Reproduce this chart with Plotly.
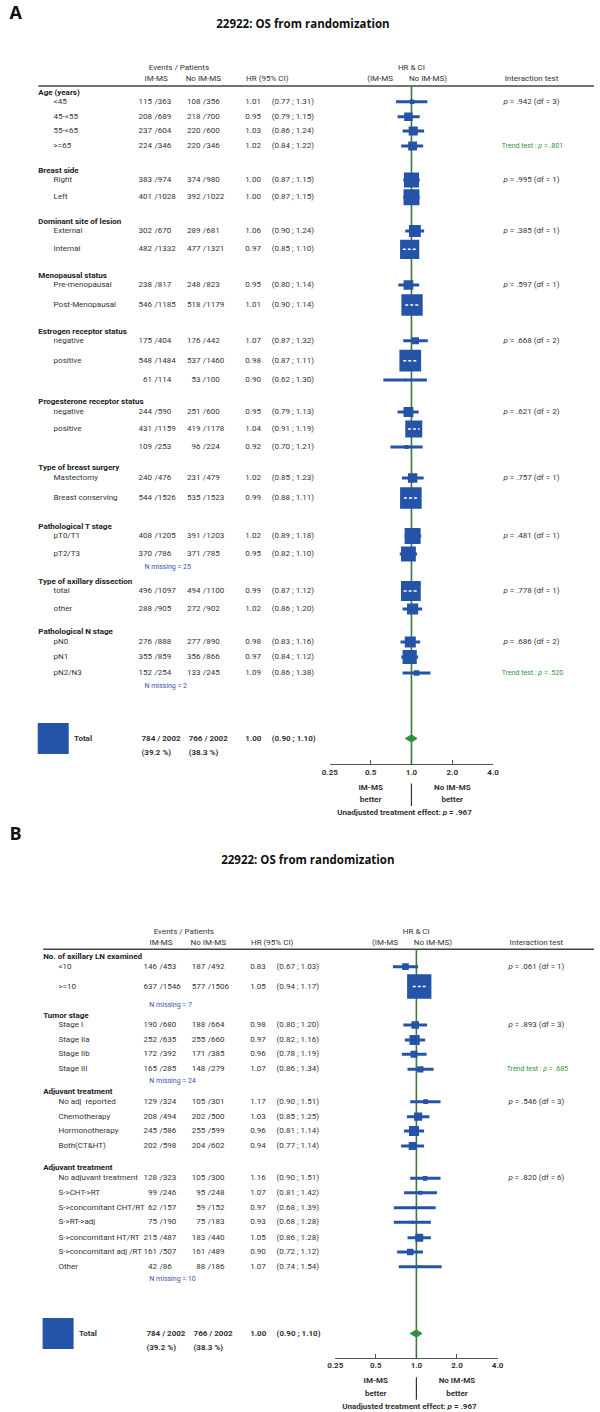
import math
import plotly.graph_objects as go

# ===================== DATA =====================
# ---- Panel A ----
A_GROUPS = ["Age (years)", "Breast side", "Dominant site of lesion", "Menopausal status",
            "Estrogen receptor status", "Progesterone receptor status",
            "Type of breast surgery", "Pathological T stage",
            "Type of axillary dissection", "Pathological N stage"]
A_GROUP_P = [".942 (df = 3)", ".995 (df = 1)", ".385 (df = 1)", ".597 (df = 1)",
             ".668 (df = 2)", ".621 (df = 2)", ".757 (df = 1)", ".481 (df = 1)",
             ".778 (df = 1)", ".686 (df = 2)"]
A_ROW_GROUP = [0, 0, 0, 0, 1, 1, 2, 2, 3, 3, 4, 4, 4, 5, 5, 5, 6, 6, 7, 7, 8, 8, 9, 9, 9]
A_LABELS = ["&lt;45", "45-&lt;55", "55-&lt;65", "&gt;=65", "Right", "Left", "External", "Internal",
            "Pre-menopausal", "Post-Menopausal", "negative", "positive", "",
            "negative", "positive", "", "Mastectomy", "Breast conserving",
            "pT0/T1", "pT2/T3", "total", "other", "pN0", "pN1", "pN2/N3"]
A_EV1 = [115, 208, 237, 224, 383, 401, 302, 482, 238, 546, 175, 548, 61, 244, 431, 109,
         240, 544, 408, 370, 496, 288, 276, 355, 152]
A_N1 = [363, 689, 604, 346, 974, 1028, 670, 1332, 817, 1185, 404, 1484, 114, 590, 1159, 253,
        476, 1526, 1205, 786, 1097, 905, 888, 859, 254]
A_EV2 = [108, 218, 220, 220, 374, 392, 289, 477, 248, 518, 176, 537, 53, 251, 419, 96,
         231, 535, 391, 371, 494, 272, 277, 356, 133]
A_N2 = [356, 700, 600, 346, 980, 1022, 681, 1321, 823, 1179, 442, 1460, 100, 600, 1178, 224,
        479, 1523, 1203, 785, 1100, 902, 890, 866, 245]
A_HR = [1.01, 0.95, 1.03, 1.02, 1.00, 1.00, 1.06, 0.97, 0.95, 1.01, 1.07, 0.98, 0.90, 0.95,
        1.04, 0.92, 1.02, 0.99, 1.02, 0.95, 0.99, 1.02, 0.98, 0.97, 1.09]
A_LO = [0.77, 0.79, 0.86, 0.84, 0.87, 0.87, 0.90, 0.85, 0.80, 0.90, 0.87, 0.87, 0.62, 0.79,
        0.91, 0.70, 0.85, 0.88, 0.89, 0.82, 0.87, 0.86, 0.83, 0.84, 0.86]
A_HI = [1.31, 1.15, 1.24, 1.22, 1.15, 1.15, 1.24, 1.10, 1.14, 1.14, 1.32, 1.11, 1.30, 1.13,
        1.19, 1.21, 1.23, 1.11, 1.18, 1.10, 1.12, 1.20, 1.16, 1.12, 1.38]
A_TREND = {3: ".801", 24: ".520"}          # row index -> trend p
A_MISSING = {7: 25, 9: 2}                  # group index -> N missing
A_TOTAL_EV = [784, 766]
A_TOTAL_N = [2002, 2002]
A_TOTAL_PCT = ["39.2 %", "38.3 %"]
A_TOTAL_HR = [1.00, 0.90, 1.10]
A_P_UNADJ = ".967"

# ---- Panel B ----
B_GROUPS = ["No. of axillary LN examined", "Tumor stage", "Adjuvant treatment",
            "Adjuvant treatment"]
B_GROUP_P = [".061 (df = 1)", ".893 (df = 3)", ".546 (df = 3)", ".820 (df = 6)"]
B_ROW_GROUP = [0, 0, 1, 1, 1, 1, 2, 2, 2, 2, 3, 3, 3, 3, 3, 3, 3]
B_LABELS = ["&lt;10", "&gt;=10", "Stage I", "Stage IIa", "Stage IIb", "Stage III",
            "No adj  reported", "Chemotherapy", "Hormonotherapy", "Both(CT&amp;HT)",
            "No adjuvant treatment", "S-&gt;CHT-&gt;RT", "S-&gt;concomitant CHT/RT",
            "S-&gt;RT-&gt;adj", "S-&gt;concomitant HT/RT", "S-&gt;concomitant adj /RT", "Other"]
B_EV1 = [146, 637, 190, 252, 172, 165, 129, 208, 245, 202, 128, 99, 62, 75, 215, 161, 42]
B_N1 = [453, 1546, 680, 635, 392, 285, 324, 494, 586, 598, 323, 246, 157, 190, 487, 507, 86]
B_EV2 = [187, 577, 188, 255, 171, 148, 105, 202, 255, 204, 105, 95, 59, 75, 183, 161, 88]
B_N2 = [492, 1506, 664, 660, 385, 279, 301, 500, 599, 602, 300, 248, 152, 183, 440, 489, 186]
B_HR = [0.83, 1.05, 0.98, 0.97, 0.96, 1.07, 1.17, 1.03, 0.96, 0.94, 1.16, 1.07, 0.97, 0.93,
        1.05, 0.90, 1.07]
B_LO = [0.67, 0.94, 0.80, 0.82, 0.78, 0.86, 0.90, 0.85, 0.81, 0.77, 0.90, 0.81, 0.68, 0.68,
        0.86, 0.72, 0.74]
B_HI = [1.03, 1.17, 1.20, 1.16, 1.19, 1.34, 1.51, 1.25, 1.14, 1.14, 1.51, 1.42, 1.39, 1.28,
        1.28, 1.12, 1.54]
B_TREND = {5: ".685"}
B_MISSING = {0: 7, 1: 24, 3: 10}
B_TOTAL_EV = [784, 766]
B_TOTAL_N = [2002, 2002]
B_TOTAL_PCT = ["39.2 %", "38.3 %"]
B_TOTAL_HR = [1.00, 0.90, 1.10]
B_P_UNADJ = ".967"

TITLE = "22922: OS from randomization"
TICK_VALS = [0.25, 0.5, 1, 2, 4]
TICK_TEXT = ["0.25", "0.5", "1.0", "2.0", "4.0"]

# ===================== LAYOUT (positions / styles) =====================
W, H = 600, 1412
BODY = "Roboto, Liberation Sans, sans-serif"
HEAD = "Open Sans, Noto Sans, sans-serif"
TXT = "#333333"
BLUE = "#2453a8"
GREEN_LINE = "#3b7a3b"
GREEN = "#2f9040"
NAVY = "#3d4db0"
SQ_PER_EVENT = 0.02  # square side (px) per event

A_POS = dict(dx=0, title_y=25, label_y=14, label="A", hdr1=68.3, hdr2=79.3, line_y=86,
             group_y=[92.7, 170.7, 222, 275.5, 331.7, 402, 468, 527, 581.5, 632],
             row_y=[101.7, 116.7, 131, 146, 180, 197.3, 231, 249.3, 285, 305, 340.7, 360.7, 380,
                    412, 429, 447, 478, 498, 536, 554, 591, 609, 642, 657, 673],
             missing_y={7: 567, 9: 686}, total_y=738.5, axis_y=764,
             dom=(329.5, 496.7), xlog="x2")
B_POS = dict(dx=5, title_y=861, label_y=835.7, label="B", hdr1=932.3, hdr2=943.3, line_y=949.3,
             group_y=[957, 1015.7, 1091.7, 1168.3],
             row_y=[966.7, 986.5, 1025, 1040, 1054.3, 1069.3, 1101.7, 1116.7, 1131, 1146,
                    1178.3, 1192.7, 1207.7, 1222.3, 1237.7, 1252, 1266.7],
             missing_y={0: 1005, 1: 1081.7, 3: 1279}, total_y=1333.5, axis_y=1357.7,
             dom=(335, 501.3), xlog="x3")

fig = go.Figure()


def add_text(xs, ys, texts, pos, size=8, color=TXT, family=BODY, xaxis="x"):
    fig.add_trace(go.Scatter(
        x=xs, y=ys, text=texts, mode="text", textposition=pos,
        textfont=dict(size=size, color=color, family=family),
        hoverinfo="skip", showlegend=False, cliponaxis=False, xaxis=xaxis, yaxis="y"))


def add_line(xs, ys, color, width, xaxis="x", dash="solid"):
    fig.add_trace(go.Scatter(
        x=xs, y=ys, mode="lines", line=dict(color=color, width=width, dash=dash),
        hoverinfo="skip", showlegend=False, cliponaxis=False, xaxis=xaxis, yaxis="y"))


def draw_panel(groups, group_p, row_group, labels, ev1, n1, ev2, n2, hr, lo, hi,
               trend, missing, tot_ev, tot_n, tot_pct, tot_hr, p_unadj, P):
    dx = P["dx"]
    xl = P["xlog"]
    ry = P["row_y"]
    # panel letter and title
    add_text([1.5], [P["label_y"]], ["<b>%s</b>" % P["label"]], "middle right", 18,
             "#111111", HEAD)
    add_text([302 + dx], [P["title_y"]], ["<b>%s</b>" % TITLE], "middle center", 11.5,
             "#111111", HEAD)
    # headers
    add_text([175 + dx, 413 + dx], [P["hdr1"]] * 2, ["Events / Patients", "HR &amp; CI"],
             "middle center")
    add_text([151.7 + dx, 200 + dx, 265.5 + dx, 381 + dx, 430 + dx, 536 + dx], [P["hdr2"]] * 6,
             ["IM-MS", "No IM-MS", "HR (95% CI)", "(IM-MS", "No IM-MS)", "Interaction test"],
             "middle center")
    add_line([31 + dx, 600], [P["line_y"]] * 2, "#444444", 1.6)
    # group labels
    add_text([31 + dx] * len(groups), P["group_y"], ["<b>%s</b>" % g for g in groups],
             "middle right", 8, "#222222")
    # rows
    add_text([46.7 + dx] * len(labels), ry, labels, "middle right")
    add_text([147.5 + dx] * len(ev1), ry, [str(v) for v in ev1], "middle left")
    add_text([150 + dx] * len(n1), ry, ["/%d" % v for v in n1], "middle right")
    add_text([197 + dx] * len(ev2), ry, [str(v) for v in ev2], "middle left")
    add_text([199.5 + dx] * len(n2), ry, ["/%d" % v for v in n2], "middle right")
    add_text([243 + dx] * len(hr), ry, ["%.2f" % v for v in hr], "middle right")
    add_text([270 + dx] * len(hr), ry, ["(%.2f ; %.2f)" % (a, b) for a, b in zip(lo, hi)],
             "middle right")
    # interaction p-values at first row of each group
    first_row = {}
    for i, g in enumerate(row_group):
        first_row.setdefault(g, i)
    add_text([536 + dx] * len(group_p), [ry[first_row[g]] for g in range(len(group_p))],
             ["<i>p</i> = %s" % p for p in group_p], "middle center")
    add_text([537 + dx] * len(trend), [ry[i] for i in trend],
             ["Trend test : <i>p</i> = %s" % trend[i] for i in trend], "middle center", 7, GREEN)
    add_text([139.7 + dx] * len(missing), [P["missing_y"][g] for g in missing],
             ["N missing = %d" % missing[g] for g in missing], "middle right", 7, NAVY)

    # totals
    ty = P["total_y"]
    tot_events = sum(tot_ev)
    fig.add_trace(go.Scatter(x=[46.3 + dx], y=[ty], mode="markers",
                             marker=dict(symbol="square", size=tot_events * SQ_PER_EVENT,
                                         color=BLUE, opacity=1, line=dict(width=0)),
                             hoverinfo="skip", showlegend=False, xaxis="x", yaxis="y"))
    add_text([67.7 + dx], [ty], ["<b>Total</b>"], "middle right")
    add_text([136.7 + dx, 185 + dx], [ty] * 2,
             ["<b>%d / %d</b>" % (e, n) for e, n in zip(tot_ev, tot_n)], "middle right")
    add_text([136.7 + dx, 185 + dx], [ty + 14] * 2, ["<b>(%s)</b>" % p for p in tot_pct],
             "middle right")
    add_text([243 + dx, 270 + dx], [ty] * 2,
             ["<b>%.2f</b>" % tot_hr[0], "<b>(%.2f ; %.2f)</b>" % (tot_hr[1], tot_hr[2])],
             "middle right")

    # ---------- forest marks ----------
    ay = P["axis_y"]
    add_line([1, 1], [P["line_y"], ay], GREEN_LINE, 1.6, xl)
    cx, cy = [], []
    for a, b, y in zip(lo, hi, ry):
        cx += [a, b, None]
        cy += [y, y, None]
    add_line(cx, cy, BLUE, 3, xl)
    sizes = [(e1 + e2) * SQ_PER_EVENT for e1, e2 in zip(ev1, ev2)]
    fig.add_trace(go.Scatter(x=hr, y=ry, mode="markers",
                             marker=dict(symbol="square", size=sizes, color=BLUE, opacity=1,
                                         line=dict(width=0)),
                             hoverinfo="skip", showlegend=False, xaxis=xl, yaxis="y"))
    # white dashes inside the large squares
    ppl = (P["dom"][1] - P["dom"][0]) / (math.log10(4) - math.log10(0.25))
    wx, wy = [], []
    for h, a, b, y, s in zip(hr, lo, hi, ry, sizes):
        if s >= 16.5:
            half = (s / 2 - 2.5) / ppl
            l0 = max(math.log10(a), math.log10(h) - half)
            l1 = min(math.log10(b), math.log10(h) + half)
            wx += [10 ** l0, 10 ** l1, None]
            wy += [y, y, None]
    add_line(wx, wy, "white", 1.4, xl, "3px,2px")
    # total diamond
    fig.add_trace(go.Scatter(x=[tot_hr[1], tot_hr[0], tot_hr[2], tot_hr[0], tot_hr[1]],
                             y=[ty, ty - 3.6, ty, ty + 3.6, ty], mode="lines", fill="toself",
                             fillcolor=GREEN, line=dict(color=GREEN, width=1),
                             hoverinfo="skip", showlegend=False, xaxis=xl, yaxis="y"))
    # below axis
    add_text([0.5, 2.0], [ay + 23.5] * 2, ["<b>IM-MS</b>", "<b>No IM-MS</b>"], "middle center",
             8, TXT, BODY, xl)
    add_text([0.5, 2.0], [ay + 36.3] * 2, ["<b>better</b>", "<b>better</b>"], "middle center",
             8, TXT, BODY, xl)
    add_line([1, 1], [ay + 19.5, ay + 42], "#333333", 1.2, xl)
    add_text([406 + dx], [ay + 49], ["<b>Unadjusted treatment effect: <i>p</i> = %s</b>" % p_unadj],
             "middle center")


draw_panel(A_GROUPS, A_GROUP_P, A_ROW_GROUP, A_LABELS, A_EV1, A_N1, A_EV2, A_N2, A_HR, A_LO,
           A_HI, A_TREND, A_MISSING, A_TOTAL_EV, A_TOTAL_N, A_TOTAL_PCT, A_TOTAL_HR, A_P_UNADJ,
           A_POS)
draw_panel(B_GROUPS, B_GROUP_P, B_ROW_GROUP, B_LABELS, B_EV1, B_N1, B_EV2, B_N2, B_HR, B_LO,
           B_HI, B_TREND, B_MISSING, B_TOTAL_EV, B_TOTAL_N, B_TOTAL_PCT, B_TOTAL_HR, B_P_UNADJ,
           B_POS)


def log_axis(P):
    return dict(type="log", range=[math.log10(0.25), math.log10(4)],
                domain=[P["dom"][0] / W, P["dom"][1] / W], anchor="free",
                position=1 - P["axis_y"] / H, showline=True, linecolor="#555555", linewidth=1.3,
                ticks="inside", ticklen=4, tickwidth=1.3, tickcolor="#555555",
                tickvals=TICK_VALS, ticktext=TICK_TEXT,
                tickfont=dict(size=8, color=TXT, family=BODY, weight="bold"),
                showgrid=False, zeroline=False, fixedrange=True)


fig.update_layout(
    width=W, height=H, margin=dict(l=0, r=0, t=0, b=0),
    paper_bgcolor="white", plot_bgcolor="rgba(0,0,0,0)", showlegend=False,
    xaxis=dict(range=[0, W], domain=[0, 1], visible=False, fixedrange=True),
    yaxis=dict(range=[H, 0], domain=[0, 1], visible=False, fixedrange=True),
    xaxis2=log_axis(A_POS),
    xaxis3=log_axis(B_POS),
)

fig.write_html("out.html", config={"displayModeBar": False},
               post_script="document.body.style.margin='0';")
